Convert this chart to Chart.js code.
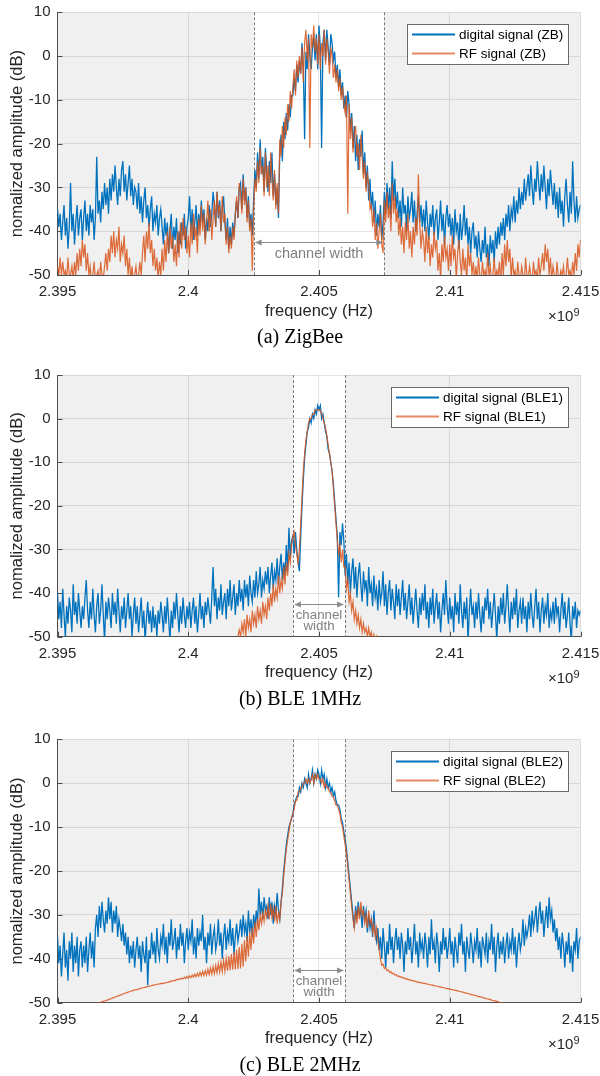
<!DOCTYPE html>
<html><head><meta charset="utf-8">
<script src="https://cdn.jsdelivr.net/npm/chart.js@4.4.0/dist/chart.umd.min.js"></script>
<style>
html,body{margin:0;padding:0;background:#fff;width:600px;height:1076px;overflow:hidden}
canvas{position:absolute;left:0}
</style></head><body>
<canvas id="c1" width="600" height="360" style="top:0px"></canvas>
<canvas id="c2" width="600" height="360" style="top:360px"></canvas>
<canvas id="c3" width="600" height="356" style="top:720px"></canvas>
<script>
const N = null;
// frequency grid (x 1e9 Hz), 0.05 MHz step
const freq = [
2.39500,2.39505,2.39510,2.39515,2.39520,2.39525,2.39530,2.39535,2.39540,2.39545,2.39550,2.39555,2.39560,2.39565,2.39570,2.39575,2.39580,2.39585,2.39590,2.39595,
2.39600,2.39605,2.39610,2.39615,2.39620,2.39625,2.39630,2.39635,2.39640,2.39645,2.39650,2.39655,2.39660,2.39665,2.39670,2.39675,2.39680,2.39685,2.39690,2.39695,
2.39700,2.39705,2.39710,2.39715,2.39720,2.39725,2.39730,2.39735,2.39740,2.39745,2.39750,2.39755,2.39760,2.39765,2.39770,2.39775,2.39780,2.39785,2.39790,2.39795,
2.39800,2.39805,2.39810,2.39815,2.39820,2.39825,2.39830,2.39835,2.39840,2.39845,2.39850,2.39855,2.39860,2.39865,2.39870,2.39875,2.39880,2.39885,2.39890,2.39895,
2.39900,2.39905,2.39910,2.39915,2.39920,2.39925,2.39930,2.39935,2.39940,2.39945,2.39950,2.39955,2.39960,2.39965,2.39970,2.39975,2.39980,2.39985,2.39990,2.39995,
2.40000,2.40005,2.40010,2.40015,2.40020,2.40025,2.40030,2.40035,2.40040,2.40045,2.40050,2.40055,2.40060,2.40065,2.40070,2.40075,2.40080,2.40085,2.40090,2.40095,
2.40100,2.40105,2.40110,2.40115,2.40120,2.40125,2.40130,2.40135,2.40140,2.40145,2.40150,2.40155,2.40160,2.40165,2.40170,2.40175,2.40180,2.40185,2.40190,2.40195,
2.40200,2.40205,2.40210,2.40215,2.40220,2.40225,2.40230,2.40235,2.40240,2.40245,2.40250,2.40255,2.40260,2.40265,2.40270,2.40275,2.40280,2.40285,2.40290,2.40295,
2.40300,2.40305,2.40310,2.40315,2.40320,2.40325,2.40330,2.40335,2.40340,2.40345,2.40350,2.40355,2.40360,2.40365,2.40370,2.40375,2.40380,2.40385,2.40390,2.40395,
2.40400,2.40405,2.40410,2.40415,2.40420,2.40425,2.40430,2.40435,2.40440,2.40445,2.40450,2.40455,2.40460,2.40465,2.40470,2.40475,2.40480,2.40485,2.40490,2.40495,
2.40500,2.40505,2.40510,2.40515,2.40520,2.40525,2.40530,2.40535,2.40540,2.40545,2.40550,2.40555,2.40560,2.40565,2.40570,2.40575,2.40580,2.40585,2.40590,2.40595,
2.40600,2.40605,2.40610,2.40615,2.40620,2.40625,2.40630,2.40635,2.40640,2.40645,2.40650,2.40655,2.40660,2.40665,2.40670,2.40675,2.40680,2.40685,2.40690,2.40695,
2.40700,2.40705,2.40710,2.40715,2.40720,2.40725,2.40730,2.40735,2.40740,2.40745,2.40750,2.40755,2.40760,2.40765,2.40770,2.40775,2.40780,2.40785,2.40790,2.40795,
2.40800,2.40805,2.40810,2.40815,2.40820,2.40825,2.40830,2.40835,2.40840,2.40845,2.40850,2.40855,2.40860,2.40865,2.40870,2.40875,2.40880,2.40885,2.40890,2.40895,
2.40900,2.40905,2.40910,2.40915,2.40920,2.40925,2.40930,2.40935,2.40940,2.40945,2.40950,2.40955,2.40960,2.40965,2.40970,2.40975,2.40980,2.40985,2.40990,2.40995,
2.41000,2.41005,2.41010,2.41015,2.41020,2.41025,2.41030,2.41035,2.41040,2.41045,2.41050,2.41055,2.41060,2.41065,2.41070,2.41075,2.41080,2.41085,2.41090,2.41095,
2.41100,2.41105,2.41110,2.41115,2.41120,2.41125,2.41130,2.41135,2.41140,2.41145,2.41150,2.41155,2.41160,2.41165,2.41170,2.41175,2.41180,2.41185,2.41190,2.41195,
2.41200,2.41205,2.41210,2.41215,2.41220,2.41225,2.41230,2.41235,2.41240,2.41245,2.41250,2.41255,2.41260,2.41265,2.41270,2.41275,2.41280,2.41285,2.41290,2.41295,
2.41300,2.41305,2.41310,2.41315,2.41320,2.41325,2.41330,2.41335,2.41340,2.41345,2.41350,2.41355,2.41360,2.41365,2.41370,2.41375,2.41380,2.41385,2.41390,2.41395,
2.41400,2.41405,2.41410,2.41415,2.41420,2.41425,2.41430,2.41435,2.41440,2.41445,2.41450,2.41455,2.41460,2.41465,2.41470,2.41475,2.41480,2.41485,2.41490,2.41495,
2.41500];
const xTicks = [2.395, 2.4, 2.405, 2.41, 2.415];
const yTicks = [-50, -40, -30, -20, -10, 0, 10];
const channelZB = [2.4025, 2.4075];
const channelBLE = [2.404, 2.406];
const namesZB = ['digital signal (ZB)', 'RF signal (ZB)'];
const namesBLE1 = ['digital signal (BLE1)', 'RF signal (BLE1)'];
const namesBLE2 = ['digital signal (BLE2)', 'RF signal (BLE2)'];
const captions = ['(a) ZigBee', '(b) BLE 1MHz', '(c) BLE 2MHz'];

const zbDigital = [
-35,-39,-36,-42,-38,-34,-41,-37,-44,-39,-29,-40,-36,-43,-38,-34,-41,-37,-35,-42,
-37,-33,-40,-36,-41,-34,-38,-35,-42,-37,-23,-36,-33,-38,-31,-35,-29,-34,-30,-36,
-28,-33,-27,-31,-25,-30,-34,-28,-32,-26,-24,-31,-27,-33,-29,-25,-32,-28,-34,-30,
-31,-35,-29,-36,-32,-38,-33,-30,-37,-34,-39,-35,-32,-40,-36,-38,-34,-41,-37,-35,
-39,-43,-37,-41,-38,-45,-40,-36,-44,-39,-42,-37,-45,-40,-43,-38,-41,-36,-44,-39,
-37,-32,-40,-35,-42,-38,-34,-41,-36,-39,-33,-38,-35,-42,-37,-40,-34,-39,-36,-31,
-34,-39,-31,-37,-33,-40,-35,-32,-38,-42,-37,-44,-39,-43,-38,-41,-36,-33,-37,-30,
-29,-35,-27,-33,-30,-37,-32,-39,-36,-41,-33,-26,-30,-22,-28,-19,-27,-23,-31,-21,
-26,-31,-24,-29,-22,-32,-27,-34,-30,-37,-22,-18,-24,-15,-19,-13,-17,-11,-14,-9,
-9,-5,-8,-2,-6,-1,-4,3,-2,-19,1,-3,5,0,-3,2,4,-1,5,-3,
7,2,-21,3,6,-1,6,2,-2,5,3,-1,1,-5,-2,-7,-3,-9,-6,-12,
-9,-14,-8,-11,-17,-13,-21,-16,-24,-18,-26,-19,-23,-17,-27,-22,-30,-25,-33,-28,
-35,-31,-38,-33,-41,-36,-39,-34,-42,-38,-31,-36,-29,-35,-30,-37,-24,-33,-28,-35,
-31,-37,-33,-39,-30,-36,-34,-40,-32,-37,-35,-31,-38,-33,-40,-36,-32,-38,-34,-39,
-35,-40,-33,-38,-42,-36,-39,-34,-41,-37,-35,-42,-38,-33,-40,-36,-43,-37,-34,-39,
-36,-41,-37,-43,-35,-40,-38,-44,-36,-42,-39,-34,-41,-37,-43,-39,-45,-40,-38,-44,
-41,-46,-40,-44,-47,-42,-45,-39,-46,-43,-48,-41,-45,-42,-47,-40,-44,-39,-43,-38,
-41,-37,-42,-36,-39,-34,-40,-35,-37,-32,-38,-33,-36,-30,-35,-31,-34,-28,-33,-30,
-27,-32,-25,-30,-34,-28,-31,-24,-29,-33,-27,-31,-25,-30,-35,-28,-32,-26,-30,-34,
-29,-35,-31,-37,-30,-36,-33,-39,-32,-28,-34,-38,-31,-36,-24,-33,-38,-32,-37,-35,
-34];
const zbRF = [
-48,-50,-46,-50,-47,-50,-49,-51,-46,-50,-50,-48,-51,-47,-50,-45,-49,-44,-48,-42,
-46,-43,-49,-45,-50,-48,-52,-50,-47,-51,-50,-49,-52,-47,-50,-51,-48,-45,-49,-44,
-47,-41,-45,-40,-46,-42,-44,-39,-47,-43,-45,-41,-48,-44,-50,-46,-51,-48,-52,-50,
-48,-51,-50,-47,-50,-45,-41,-47,-40,-44,-38,-45,-42,-48,-44,-49,-46,-51,-47,-50,
-44,-49,-42,-47,-40,-45,-39,-44,-41,-47,-43,-48,-40,-46,-38,-44,-37,-42,-39,-45,
-41,-46,-38,-43,-36,-42,-39,-45,-37,-41,-34,-40,-36,-43,-38,-33,-40,-35,-42,-37,
-33,-39,-31,-36,-34,-40,-32,-38,-36,-43,-39,-45,-41,-44,-39,-42,-36,-32,-37,-29,
-31,-36,-28,-34,-30,-38,-33,-40,-37,-49,-35,-28,-31,-24,-29,-21,-27,-25,-32,-22,
-30,-25,-32,-22,-28,-33,-26,-35,-29,-36,-19,-23,-16,-21,-14,-18,-11,-15,-8,-12,
-7,-3,-9,-1,-5,0,-4,2,-6,3,6,-1,4,-21,5,2,7,1,4,-2,
5,-3,3,0,6,-2,4,1,-4,2,0,-5,-2,-6,-3,-8,-5,-10,-7,-11,
-13,-9,-36,-11,-19,-14,-22,-18,-16,-23,-20,-26,-18,-23,-28,-24,-31,-27,-29,-35,
-34,-39,-35,-42,-38,-44,-40,-36,-43,-45,-33,-38,-31,-37,-34,-40,-29,-36,-32,-38,
-35,-41,-37,-43,-39,-45,-38,-42,-36,-44,-40,-46,-39,-43,-37,-41,-27,-38,-44,-40,
-42,-47,-39,-45,-41,-48,-43,-46,-40,-44,-42,-49,-45,-51,-43,-47,-41,-46,-44,-49,
-43,-48,-41,-46,-44,-51,-45,-42,-47,-50,-44,-49,-46,-52,-43,-48,-45,-50,-47,-51,
-48,-51,-46,-50,-52,-47,-50,-49,-51,-45,-50,-48,-52,-50,-46,-51,-49,-50,-47,-52,
-45,-50,-43,-48,-42,-47,-44,-51,-46,-50,-49,-52,-47,-50,-51,-48,-50,-52,-46,-50,
-51,-48,-50,-52,-47,-50,-49,-51,-46,-50,-48,-45,-49,-43,-47,-44,-50,-46,-51,-48,
-50,-52,-47,-50,-51,-49,-50,-48,-52,-50,-46,-50,-49,-51,-47,-50,-45,-49,-43,-46,
-42];
const ble1Digital = [
-40,-46,-42,-48,-39,-45,-50,-43,-47,-41,-44,-49,-38,-45,-42,-47,-40,-44,-48,-43,
-46,-41,-37,-44,-48,-42,-46,-39,-45,-49,-43,-40,-47,-44,-38,-45,-51,-42,-46,-41,
-44,-48,-40,-45,-42,-47,-39,-44,-49,-43,-46,-41,-48,-44,-40,-46,-43,-50,-45,-41,
-47,-43,-49,-45,-41,-48,-44,-51,-46,-42,-47,-44,-49,-43,-48,-45,-50,-44,-47,-42,
-45,-49,-43,-47,-41,-46,-51,-44,-48,-42,-46,-40,-45,-49,-43,-47,-41,-45,-48,-43,
-46,-42,-48,-44,-41,-47,-43,-49,-45,-40,-46,-43,-48,-42,-45,-41,-44,-47,-41,-34,
-43,-39,-46,-41,-44,-38,-45,-42,-40,-46,-39,-43,-37,-44,-41,-38,-45,-40,-43,-37,
-42,-39,-44,-37,-41,-38,-43,-36,-40,-42,-37,-41,-35,-40,-38,-34,-41,-37,-39,-35,
-38,-34,-40,-36,-33,-39,-35,-37,-32,-38,-34,-31,-37,-33,-36,-29,-35,-25,-32,-28,
-27,-31,-26,-30,-33,-35,-27,-20,-14,-9,-6,-3,-2,0,-1,1,0,2,1,3,
2,3,0,1,-1,-3,-4,-7,-8,-10,-12,-15,-19,-23,-27,-41,-26,-29,-24,-28,
-36,-31,-38,-33,-40,-35,-32,-39,-34,-41,-36,-33,-38,-42,-35,-39,-37,-43,-34,-40,
-38,-43,-36,-41,-39,-44,-37,-42,-40,-35,-43,-38,-45,-40,-37,-44,-39,-42,-46,-38,
-43,-39,-45,-41,-37,-44,-40,-46,-42,-38,-45,-41,-47,-43,-39,-44,-48,-41,-45,-40,
-44,-38,-46,-42,-48,-41,-45,-39,-47,-43,-40,-46,-42,-49,-44,-40,-45,-37,-43,-47,
-41,-46,-43,-49,-40,-45,-42,-47,-38,-44,-48,-42,-46,-41,-51,-44,-39,-45,-43,-48,
-42,-46,-40,-45,-49,-43,-47,-41,-44,-39,-46,-42,-48,-44,-40,-45,-51,-43,-47,-41,
-45,-40,-47,-43,-38,-44,-49,-42,-46,-41,-45,-39,-48,-44,-42,-47,-41,-46,-43,-49,
-42,-46,-40,-45,-48,-43,-39,-46,-42,-49,-44,-41,-47,-43,-45,-40,-48,-44,-46,-42,
-47,-41,-45,-43,-49,-44,-40,-46,-42,-48,-45,-41,-47,-51,-43,-46,-42,-48,-44,-45,
-44];
const ble1RF = [
N,N,N,N,N,N,N,N,N,N,N,N,N,N,N,N,N,N,N,N,
N,N,N,N,N,N,N,N,N,N,N,N,N,N,N,N,N,N,N,N,
N,N,N,N,N,N,N,N,N,N,N,N,N,N,N,N,N,N,N,N,
N,N,N,N,N,N,N,N,N,N,N,N,N,N,N,N,N,N,N,N,
N,N,N,N,N,N,N,N,N,N,N,N,N,N,N,N,N,N,N,N,
N,N,N,N,N,N,N,N,N,N,N,N,N,N,N,N,N,N,N,N,
N,N,N,N,N,N,N,N,N,N,N,N,N,N,N,N,-53,-51.5,-50,-48.5,
-50,-47,-49,-46,-50,-45,-48,-46,-49,-44,-47,-45,-48,-43,-46,-44,-47,-42,-45,-43,
-46,-41,-44,-40,-43,-38,-42,-39,-41,-36,-40,-37,-39,-34,-38,-33,-36,-31,-33,-29,
-27,-26,-29,-31,-33,-30,-24,-18,-12,-8,-5,-3,-1,0,0,1,1,2,2,2,
2,2,1,0,-1,-2,-4,-6,-8,-10,-12,-16,-20,-24,-28,-31,-29,-33,-30,-34,
-34,-39,-37,-42,-40,-44,-42,-46,-44,-47,-45,-48,-46,-49,-47,-49,-48,-50,-48,-50,
-49,-51,-49.5,-51,-50,-52,-53,N,N,N,N,N,N,N,N,N,N,N,N,N,
N,N,N,N,N,N,N,N,N,N,N,N,N,N,N,N,N,N,N,N,
N,N,N,N,N,N,N,N,N,N,N,N,N,N,N,N,N,N,N,N,
N,N,N,N,N,N,N,N,N,N,N,N,N,N,N,N,N,N,N,N,
N,N,N,N,N,N,N,N,N,N,N,N,N,N,N,N,N,N,N,N,
N,N,N,N,N,N,N,N,N,N,N,N,N,N,N,N,N,N,N,N,
N,N,N,N,N,N,N,N,N,N,N,N,N,N,N,N,N,N,N,N,
N,N,N,N,N,N,N,N,N,N,N,N,N,N,N,N,N,N,N,N,
N];
const ble2Digital = [
-35,-41,-37,-44,-39,-34,-42,-38,-45,-36,-40,-34,-43,-37,-41,-35,-44,-38,-36,-42,
-37,-41,-35,-43,-38,-34,-40,-36,-42,-33,-30,-35,-28,-33,-27,-31,-34,-29,-32,-26,
-31,-27,-34,-29,-32,-28,-35,-31,-33,-36,-32,-37,-34,-39,-35,-41,-37,-40,-36,-42,
-38,-35,-40,-37,-43,-36,-39,-41,-35,-46,-38,-40,-34,-39,-36,-41,-33,-38,-40,-35,
-37,-32,-39,-35,-41,-34,-37,-31,-38,-36,-33,-40,-35,-38,-32,-37,-34,-41,-36,-33,
-38,-34,-36,-31,-39,-35,-40,-33,-37,-34,-36,-30,-38,-35,-41,-34,-37,-32,-39,-35,
-33,-38,-36,-31,-37,-34,-40,-35,-32,-38,-34,-36,-31,-37,-33,-39,-35,-32,-36,-34,
-31,-35,-30,-34,-32,-36,-29,-34,-31,-35,-30,-33,-29,-32,-24,-30,-27,-31,-26,-29,
-28,-31,-26,-30,-27,-32,-28,-30,-25,-29,-31,-27,-24,-20,-17,-14,-12,-10,-9,-8,
-7,-5,-4,-3,-3,-1,-2,0,-1,1,0,-1,2,0,1,3,0,2,1,3,
2,0,3,1,2,-1,1,-1,0,-2,-1,-3,-2,-4,-5,-5,-6,-8,-9,-11,
-13,-15,-18,-21,-24,-27,-30,-33,-28,-31,-27,-30,-29,-33,-28,-31,-29,-34,-30,-33,
-31,-35,-29,-34,-36,-33,-38,-35,-40,-33,-37,-42,-36,-39,-32,-38,-35,-41,-36,-33,
-38,-35,-40,-34,-37,-43,-36,-39,-33,-38,-35,-41,-37,-32,-39,-36,-42,-34,-38,-36,
-40,-34,-37,-42,-35,-39,-31,-38,-36,-41,-34,-37,-43,-36,-39,-33,-38,-35,-40,-37,
-33,-39,-36,-42,-35,-38,-41,-34,-37,-32,-39,-36,-43,-35,-38,-40,-34,-37,-41,-36,
-38,-33,-40,-36,-42,-35,-37,-39,-34,-41,-36,-38,-32,-39,-35,-43,-37,-34,-40,-36,
-39,-35,-41,-37,-34,-40,-36,-38,-33,-39,-35,-42,-37,-34,-38,-36,-31,-37,-33,-35,
-33,-30,-35,-29,-33,-31,-28,-34,-30,-27,-32,-29,-35,-31,-28,-33,-26,-31,-29,-34,
-31,-36,-33,-38,-35,-40,-34,-37,-42,-36,-39,-34,-41,-37,-43,-36,-38,-33,-40,-36,
-35];
const ble2RF = [
N,N,N,N,N,N,N,N,N,N,N,N,N,N,N,N,N,N,N,N,
N,N,N,N,N,N,N,N,N,N,N,-50.4,-50.0,-49.9,-49.8,-49.7,-49.6,-49.5,-49.4,-49.3,
-49.2,-49.1,-48.9,-48.9,-48.7,-48.6,-48.5,-48.4,-48.2,-48.2,-48.0,-47.9,-47.8,-47.7,-47.6,-47.5,-47.4,-47.3,-47.2,-47.1,
-47.1,-47.0,-46.9,-46.8,-46.7,-46.6,-46.6,-46.5,-46.4,-46.3,-46.3,-46.2,-46.1,-46.0,-46.0,-45.9,-45.8,-45.8,-45.7,-45.6,
-45.7,-45.5,-45.6,-45.4,-45.4,-45.2,-45.3,-45.0,-45.1,-44.9,-45.0,-44.7,-44.8,-44.5,-44.7,-44.4,-44.6,-44.2,-44.5,-44.0,
-44.4,-43.9,-44.3,-43.7,-44.2,-43.5,-44.1,-43.3,-44.0,-43.1,-43.9,-42.9,-43.8,-42.7,-43.7,-42.4,-43.6,-42.1,-43.5,-41.8,
-43.4,-41.5,-43.2,-41.1,-43.0,-40.7,-42.9,-40.3,-42.8,-39.9,-42.7,-39.4,-42.6,-38.9,-42.5,-38.4,-42.4,-37.9,-42.3,-37.3,
-42.2,-36.6,-41.8,-35.8,-40.6,-34.8,-39.5,-33.9,-38.0,-32.8,-36.5,-31.6,-35,-30.8,-33.5,-30.0,-32,-29.5,-31.5,-29,
-30.5,-28,-31,-27.5,-30.5,-28.5,-31.5,-28,-32,-29.5,-31,-27,-25,-21,-18,-15,-13,-11,-9,-8,
-7,-6,-4,-4,-2,-2,-1,-1,0,0,1,0,1,0,1,2,0,2,1,2,
1,1,0,1,-1,0,-1,-1,-2,-2,-3,-3,-4,-5,-5,-6,-7,-9,-10,-12,
-14,-16,-19,-22,-25,-28,-31,-33,-29,-32,-28,-31,-27,-30,-29,-32,-30,-33,-29,-32,
-31,-34,-32,-35,-33,-36,-38,-40,-41.5,-41.2,-42.2,-42,-42.7,-42.5,-43.1,-42.9,-43.4,-43.3,-43.7,-43.6,
-44,-43.9,-44.2,-44.1,-44.4,-44.3,-44.6,-44.5,-44.8,-44.7,-44.9,-44.9,-45.1,-45.0,-45.2,-45.2,-45.4,-45.3,-45.5,-45.5,
-45.6,-45.6,-45.7,-45.8,-45.8,-45.9,-46.0,-46.0,-46.1,-46.2,-46.2,-46.3,-46.4,-46.4,-46.5,-46.6,-46.6,-46.7,-46.8,-46.8,
-46.9,-47.0,-47.0,-47.1,-47.2,-47.2,-47.3,-47.4,-47.5,-47.5,-47.6,-47.7,-47.8,-47.8,-47.9,-48.0,-48.1,-48.2,-48.2,-48.3,
-48.4,-48.5,-48.6,-48.6,-48.7,-48.8,-48.9,-49.0,-49.1,-49.1,-49.2,-49.3,-49.4,-49.5,-49.6,-49.6,-49.7,-49.8,-49.9,-50.0,
-50.1,-50.2,N,N,N,N,N,N,N,N,N,N,N,N,N,N,N,N,N,N,
N,N,N,N,N,N,N,N,N,N,N,N,N,N,N,N,N,N,N,N,
N,N,N,N,N,N,N,N,N,N,N,N,N,N,N,N,N,N,N,N,
N];

const BLUE = '#0072BD';
const RED = 'rgba(217,83,25,0.85)';
const TXT = '#262626';
const SANS = '"Liberation Sans", Arial, sans-serif';
Chart.defaults.font.family = SANS;

const panels = [
  {id:'c1', digital:zbDigital, rf:zbRF, names:namesZB, channel:channelZB, caption:captions[0], top:12.3, bottom:275, legendW:161, arrowLines:['channel width']},
  {id:'c2', digital:ble1Digital, rf:ble1RF, names:namesBLE1, channel:channelBLE, caption:captions[1], top:15, bottom:276.7, legendW:177, arrowLines:['channel','width']},
  {id:'c3', digital:ble2Digital, rf:ble2RF, names:namesBLE2, channel:channelBLE, caption:captions[2], top:19.3, bottom:282.7, legendW:177, arrowLines:['channel','width']}
];

function build(p){
  const cv = document.getElementById(p.id);
  const H = cv.height;
  const plug = {
    id:'panel_'+p.id,
    beforeDraw(chart){
      const {ctx, chartArea:a, scales:{x}} = chart;
      ctx.save();
      ctx.fillStyle = '#f0f0f0';
      ctx.fillRect(a.left, a.top, a.width, a.height);
      const x0 = x.getPixelForValue(p.channel[0]), x1 = x.getPixelForValue(p.channel[1]);
      ctx.fillStyle = '#ffffff';
      ctx.fillRect(x0, a.top, x1-x0, a.height);
      ctx.restore();
    },
    beforeDatasetsDraw(chart){
      const {ctx, chartArea:a, scales:{x,y}} = chart;
      ctx.save();
      ctx.strokeStyle = '#7a7a7a'; ctx.lineWidth = 1; ctx.setLineDash([3,2]);
      p.channel.forEach(c => {
        const px = Math.round(x.getPixelForValue(c)) + 0.5;
        ctx.beginPath(); ctx.moveTo(px, a.top); ctx.lineTo(px, a.bottom); ctx.stroke();
      });
      ctx.setLineDash([]);
      ctx.strokeStyle = '#4d4d4d';
      xTicks.forEach(v => { const px = Math.round(x.getPixelForValue(v))+0.5; ctx.beginPath(); ctx.moveTo(px,a.bottom); ctx.lineTo(px,a.bottom-5); ctx.stroke(); });
      yTicks.forEach(v => { const py = Math.round(y.getPixelForValue(v))+0.5; ctx.beginPath(); ctx.moveTo(a.left,py); ctx.lineTo(a.left+5,py); ctx.stroke(); });
      ctx.restore();
    },
    afterDraw(chart){
      const {ctx, chartArea:a, scales:{x,y}} = chart;
      ctx.save();
      const x0 = x.getPixelForValue(p.channel[0]), x1 = x.getPixelForValue(p.channel[1]);
      const ay = Math.round(y.getPixelForValue(-42.5)) + 0.5;
      ctx.strokeStyle = '#8a8a8a'; ctx.fillStyle = '#8a8a8a'; ctx.lineWidth = 1;
      ctx.beginPath(); ctx.moveTo(x0+2, ay); ctx.lineTo(x1-2, ay); ctx.stroke();
      ctx.beginPath(); ctx.moveTo(x0+1.5, ay); ctx.lineTo(x0+8, ay-3); ctx.lineTo(x0+8, ay+3); ctx.closePath(); ctx.fill();
      ctx.beginPath(); ctx.moveTo(x1-1.5, ay); ctx.lineTo(x1-8, ay-3); ctx.lineTo(x1-8, ay+3); ctx.closePath(); ctx.fill();
      ctx.fillStyle = '#808080'; ctx.textAlign = 'center'; ctx.textBaseline = 'middle';
      const mid = (x0+x1)/2;
      if (p.arrowLines.length === 1) {
        ctx.font = '14.5px ' + SANS;
        ctx.fillText(p.arrowLines[0], mid, ay + 11);
      } else {
        ctx.font = '13.3px ' + SANS;
        ctx.fillText(p.arrowLines[0], mid, ay + 10.5);
        ctx.fillText(p.arrowLines[1], mid, ay + 22);
      }
      // legend
      const lw = p.legendW, lh = 40;
      const lx = Math.round(a.right - 12.5 - lw), ly = Math.round(a.top + 12);
      ctx.fillStyle = '#ffffff'; ctx.fillRect(lx, ly, lw, lh);
      ctx.strokeStyle = '#6a6a6a'; ctx.lineWidth = 1; ctx.strokeRect(lx+0.5, ly+0.5, lw, lh);
      const rows = [['#0072BD', 1.8, p.names[0], ly+10.5], ['#e58a62', 1.8, p.names[1], ly+29.5]];
      ctx.textAlign = 'left'; ctx.textBaseline = 'middle'; ctx.font = '13.5px ' + SANS;
      rows.forEach(r => {
        ctx.strokeStyle = r[0]; ctx.lineWidth = r[1];
        ctx.beginPath(); ctx.moveTo(lx+5, r[3]); ctx.lineTo(lx+48, r[3]); ctx.stroke();
        ctx.fillStyle = '#000'; ctx.fillText(r[2], lx+52, r[3]+0.5);
      });
      // axis titles
      ctx.fillStyle = TXT;
      ctx.font = '16.5px ' + SANS; ctx.textAlign = 'center'; ctx.textBaseline = 'middle';
      ctx.fillText('frequency (Hz)', (a.left+a.right)/2, a.bottom + 36);
      ctx.save();
      ctx.translate(17, (a.top+a.bottom)/2); ctx.rotate(-Math.PI/2);
      ctx.fillText('nomalized amplitude (dB)', 0, 0);
      ctx.restore();
      // x10^9
      ctx.textAlign = 'right'; ctx.textBaseline = 'alphabetic';
      ctx.font = '11px ' + SANS; ctx.fillText('9', a.right - 1, a.bottom + 41);
      const w9 = ctx.measureText('9').width;
      ctx.font = '15px ' + SANS; ctx.fillText('\u00d710', a.right - 1 - w9, a.bottom + 46);
      // caption
      ctx.fillStyle = '#000'; ctx.textAlign = 'center'; ctx.textBaseline = 'middle';
      ctx.font = '20px "Liberation Serif", "Times New Roman", serif';
      ctx.fillText(p.caption, 300, a.bottom + 63);
      ctx.restore();
    }
  };
  return new Chart(cv, {
    type:'line',
    data:{datasets:[
      {label:p.names[0], data:freq.map((f,i)=>({x:f, y:p.digital[i]})), borderColor:BLUE, borderWidth:1.3, pointRadius:0, tension:0, order:2},
      {label:p.names[1], data:freq.map((f,i)=>({x:f, y:p.rf[i]})), borderColor:RED, borderWidth:1.2, pointRadius:0, tension:0, order:1}
    ]},
    options:{
      responsive:false, animation:false, devicePixelRatio:1,
      layout:{padding:{top:p.top, right:19.5, left:0, bottom:0}},
      plugins:{legend:{display:false}, tooltip:{enabled:false}},
      scales:{
        x:{type:'linear', min:2.395, max:2.415,
           afterBuildTicks:s=>{ s.ticks = xTicks.map(v=>({value:v})); },
           afterFit:s=>{ s.height = H - p.bottom; s.paddingLeft = 0; s.paddingRight = 0; },
           ticks:{callback:v=>String(+Number(v).toFixed(3)), color:TXT, font:{size:15}, padding:8, maxRotation:0, autoSkip:false},
           grid:{color:'rgba(0,0,0,0.1)', drawTicks:false},
           border:{display:true, color:'#4d4d4d', width:1}},
        y:{type:'linear', min:-50, max:10,
           afterBuildTicks:s=>{ s.ticks = yTicks.map(v=>({value:v})); },
           afterFit:s=>{ s.width = 57.5; s.paddingTop = 0; s.paddingBottom = 0; },
           ticks:{color:TXT, font:{size:15}, padding:7},
           grid:{color:'rgba(0,0,0,0.1)', drawTicks:false},
           border:{display:true, color:'#4d4d4d', width:1}}
      }
    },
    plugins:[plug]
  });
}
panels.forEach(build);
</script>
</body></html>
